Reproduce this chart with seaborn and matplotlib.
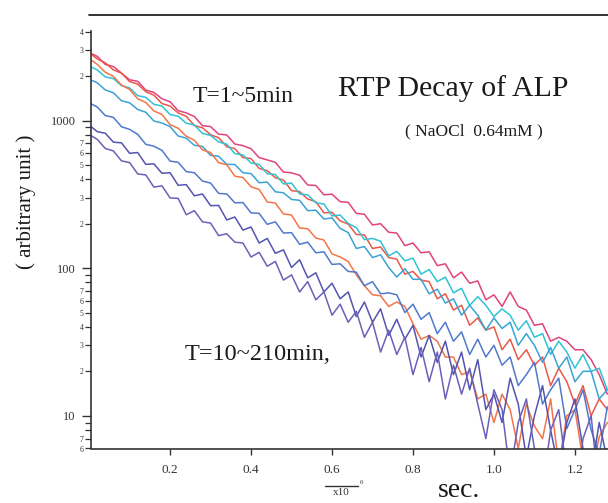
import numpy as np
import pandas as pd
import matplotlib
matplotlib.use("Agg")
import matplotlib.pyplot as plt
import seaborn as sns
from matplotlib.ticker import FixedLocator, FuncFormatter
from matplotlib.lines import Line2D

# ---------------- data ----------------
time_x1e6 = [0.00, 0.02, 0.04, 0.06, 0.08, 0.10, 0.12, 0.14, 0.16, 0.18,
             0.20, 0.22, 0.24, 0.26, 0.28, 0.30, 0.32, 0.34, 0.36, 0.38,
             0.40, 0.42, 0.44, 0.46, 0.48, 0.50, 0.52, 0.54, 0.56, 0.58,
             0.60, 0.62, 0.64, 0.66, 0.68, 0.70, 0.72, 0.74, 0.76, 0.78,
             0.80, 0.82, 0.84, 0.86, 0.88, 0.90, 0.92, 0.94, 0.96, 0.98,
             1.00, 1.02, 1.04, 1.06, 1.08, 1.10, 1.12, 1.14, 1.16, 1.18,
             1.20, 1.22, 1.24, 1.26, 1.28]

run_pink = [2884, 2723, 2399, 2323, 2094, 1888, 1845, 1607, 1552, 1403,
            1340, 1167, 1127, 1064, 923, 910, 809, 798, 693, 676,
            644, 561, 541, 521, 448, 442, 426, 366, 363, 314,
            317, 282, 279, 235, 232, 196, 200, 175, 173, 142,
            148, 127, 129, 104, 107, 86, 94, 79, 82, 61,
            66, 55, 69, 55, 52, 41, 42, 32, 34, 32,
            28, 28, 24, 19, 14]
run_red = [2884, 2618, 2460, 2203, 2094, 1837, 1766, 1567, 1486, 1303,
           1253, 1125, 1069, 925, 893, 802, 764, 664, 646, 561,
           552, 474, 457, 410, 395, 335, 330, 294, 282, 237,
           239, 209, 199, 169, 168, 136, 139, 118, 115, 91,
           95, 83, 81, 62, 67, 52, 56, 41, 46, 38,
           40, 28, 33, 24, 28, 22, 25, 16, 21, 17,
           12, 16, 10, 13, 11]
run_cyan = [2344, 2203, 1977, 1923, 1726, 1663, 1476, 1435, 1288, 1253,
            1099, 1069, 959, 933, 818, 793, 716, 692, 597, 585,
            515, 505, 436, 431, 372, 377, 318, 314, 277, 272,
            226, 229, 201, 188, 156, 159, 152, 121, 130, 112,
            117, 91, 98, 81, 87, 68, 73, 56, 64, 56,
            47, 53, 48, 38, 44, 34, 36, 26, 32, 27,
            21, 26, 20, 21, 15]
run_skyblue = [1905, 1803, 1611, 1542, 1361, 1318, 1189, 1138, 993, 962,
               910, 785, 760, 679, 668, 581, 573, 505, 504, 443,
               437, 379, 383, 329, 324, 292, 288, 245, 247, 215,
               219, 186, 174, 136, 140, 118, 123, 101, 87, 99,
               84, 84, 67, 72, 58, 62, 48, 56, 48, 38,
               46, 39, 43, 30, 36, 30, 23, 29, 21, 25,
               17, 20, 20, 13, 15]
run_orange = [2630, 2404, 2123, 1991, 1738, 1626, 1403, 1327, 1161, 1099,
              938, 887, 783, 735, 632, 607, 518, 502, 420, 411,
              356, 341, 281, 276, 233, 229, 187, 185, 160, 155,
              125, 119, 111, 90, 76, 66, 65, 55, 59, 55,
              42, 33, 35, 32, 25, 25, 19, 20, 13, 14,
              9, 14, 11, 6, 12, 8.5, 7, 13, 4.6, 10,
              11, 5, 3.8, 7.2, 9]
run_blue = [1318, 1236, 1081, 1050, 908, 871, 807, 690, 670, 628,
            531, 521, 451, 443, 389, 377, 321, 318, 277, 278,
            237, 235, 198, 206, 173, 174, 145, 150, 127, 129,
            106, 107, 95, 94, 76, 81, 67, 68, 66, 50,
            57, 45, 50, 36, 43, 32, 37, 26, 33, 25,
            30, 22, 25, 16, 19, 23, 12, 15, 18, 8.2,
            11, 15, 8, 5.5, 11.5]
run_indigo = [933, 841, 820, 714, 706, 600, 607, 505, 509, 439,
              443, 364, 368, 309, 318, 265, 266, 212, 222, 181,
              190, 148, 159, 126, 133, 101, 114, 86, 93, 69,
              79, 62, 69, 47, 59, 43, 53, 35, 45, 33,
              41, 25, 35, 23, 32, 19, 27, 15, 24, 11,
              14, 9, 18, 12, 5.2, 10, 16, 8, 4.3, 9,
              13, 6, 4, 9, 5]
run_violet = [804, 746, 647, 622, 533, 519, 435, 428, 354, 361,
              299, 297, 230, 245, 206, 202, 166, 171, 150, 148,
              119, 128, 103, 111, 83, 90, 69, 81, 61, 69,
              48, 57, 43, 51, 34, 43, 27, 38, 26, 34,
              19, 29, 17, 27, 13, 22, 14, 21, 12, 7,
              15, 11, 4, 9, 13, 6, 3.3, 8, 11, 4,
              2.7, 7, 10, 3, 5]

run_names = ["pink", "red", "cyan", "skyblue", "orange", "blue", "indigo", "violet"]
run_values = [run_pink, run_red, run_cyan, run_skyblue, run_orange,
              run_blue, run_indigo, run_violet]
run_colors = ["#e0437e", "#ea5848", "#2ec3d5", "#3aa2d6", "#f27448",
              "#5079cb", "#5454b0", "#6b60b8"]

y_major = [10, 100, 1000]
x_ticks = [0.2, 0.4, 0.6, 0.8, 1.0, 1.2]
x_ticklabels = ["0.2", "0.4", "0.6", "0.8", "1.0", "1.2"]

# ---------------- figure ----------------
sns.set_style("white")
plt.rcParams['font.family'] = ['Liberation Serif', 'DejaVu Serif']

W, H = 608, 503
fig = plt.figure(figsize=(W / 100, H / 100), dpi=100)
ax = fig.add_axes([91 / W, 1 - 448.5 / H, (W - 91) / W, 417 / H])

frames = []
for name, vals in zip(run_names, run_values):
    frames.append(pd.DataFrame({"t": time_x1e6, "v": vals, "run": name}))
df = pd.concat(frames, ignore_index=True)

sns.lineplot(data=df, x="t", y="v", hue="run", hue_order=run_names,
             palette=run_colors, legend=False, estimator=None, errorbar=None,
             sort=False, linewidth=1.1, ax=ax)

ax.set_yscale("log")
ax.set_ylim(6, 4010)
ax.set_xlim(0.0047, 1.2817)
ax.set_xlabel("")
ax.set_ylabel("")

axcol = "#333333"
for s in ["top", "right"]:
    ax.spines[s].set_visible(False)
for s in ["left", "bottom"]:
    ax.spines[s].set_color(axcol)
    ax.spines[s].set_linewidth(1.2)

# y ticks
ax.yaxis.set_major_locator(FixedLocator(y_major))
ax.yaxis.set_major_formatter(FuncFormatter(lambda v, p: f"{int(round(v))}"))
minor_locs = [m * 10 ** k for k in range(0, 4) for m in range(2, 10)]
minor_locs = [v for v in minor_locs if 6 <= v <= 4010]
ax.yaxis.set_minor_locator(FixedLocator(minor_locs))

def minor_fmt(v, p):
    lead = int(round(v / 10 ** np.floor(np.log10(v) + 1e-9)))
    return str(lead) if 2 <= lead <= 7 else ""

ax.yaxis.set_minor_formatter(FuncFormatter(minor_fmt))
ax.tick_params(axis="y", which="major", direction="out", length=6.5, width=1.0,
               color=axcol, labelsize=9, pad=4.5, labelcolor="#333333", left=True)
ax.tick_params(axis="y", which="minor", direction="out", length=4.3, width=0.9,
               color=axcol, labelsize=5.5, pad=1.2, labelcolor="#333333", left=True)

# x ticks
ax.set_xticks(x_ticks)
ax.set_xticklabels(x_ticklabels)
ax.tick_params(axis="x", which="major", direction="out", length=4.5, width=1.0,
               color=axcol, labelsize=9.5, pad=7, labelcolor="#333333", bottom=True)
ax.xaxis.set_minor_locator(FixedLocator([]))

# top rule above the plot
fig.add_artist(Line2D([89 / W, 1.0], [1 - 15 / H, 1 - 15 / H],
                      transform=fig.transFigure, color="#111111", lw=1.2))

def fx(px):
    return px / W

def fy(py):
    return 1 - py / H

txtcol = "#1a1a1a"
fig.text(fx(26), fy(202), "( arbitrary unit )", rotation=90, ha="center",
         va="center", fontsize=15, color=txtcol)
fig.text(fx(193), fy(102), "T=1~5min", ha="left", va="baseline",
         fontsize=17, color=txtcol)
fig.text(fx(338), fy(96), "RTP Decay of ALP", ha="left", va="baseline",
         fontsize=21.5, color=txtcol)
fig.text(fx(405), fy(135), "( NaOCl  0.64mM )", ha="left", va="baseline",
         fontsize=12.5, color=txtcol)
fig.text(fx(185), fy(360), "T=10~210min,", ha="left", va="baseline",
         fontsize=17.5, color=txtcol)
fig.text(fx(438), fy(497), "sec.", ha="left", va="baseline",
         fontsize=20, color=txtcol)
fig.text(fx(333), fy(495), "x10", ha="left", va="baseline",
         fontsize=8, color="#333333")
fig.text(fx(360), fy(484), "6", ha="left", va="baseline",
         fontsize=5, color="#333333")
fig.add_artist(Line2D([fx(325), fx(358)], [fy(486), fy(486)],
                      transform=fig.transFigure, color="#333333", lw=1.0))

fig.savefig("out.png", dpi=100)
